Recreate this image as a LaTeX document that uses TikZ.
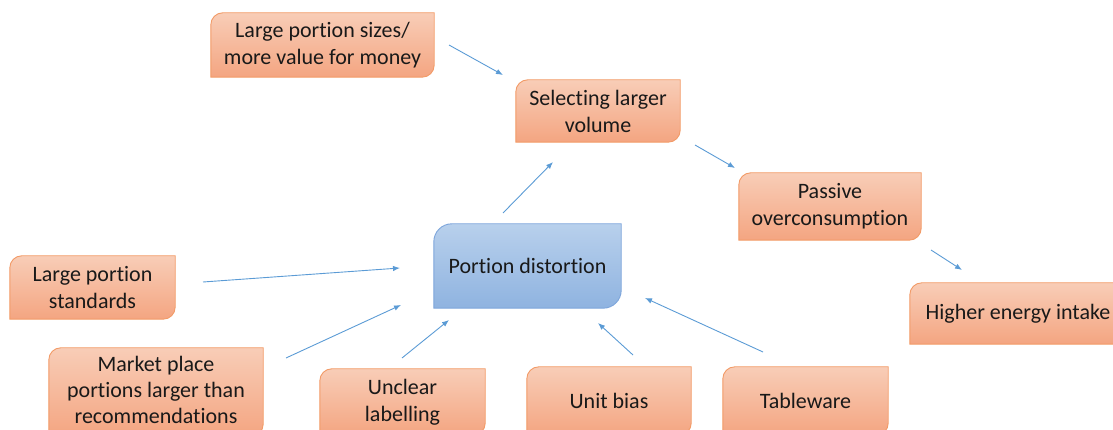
\documentclass[tikz,border=0pt]{standalone}
\usepackage{fontspec}
\setmainfont[Ligatures={NoCommon}]{Carlito}
\usetikzlibrary{calc,arrows.meta}
\definecolor{otop}{HTML}{F8CDB7}
\definecolor{obot}{HTML}{F4A581}
\definecolor{oline}{HTML}{F29A66}
\definecolor{btop}{HTML}{B8D0EC}
\definecolor{bbot}{HTML}{8FB3E0}
\definecolor{bline}{HTML}{7DA5DB}
\definecolor{arr}{HTML}{5B9BD5}
\newcommand\diagshape[5]{% name, top, bottom, line, radius
  \path[draw=#4, line width=0.9pt, top color=#2, bottom color=#3]
    ($(#1.north west)+(#5,0)$) -- (#1.north east) -- ($(#1.south east)+(0,#5)$)
    arc[start angle=0, end angle=-90, radius=#5] -- (#1.south west)
    -- ($(#1.north west)+(0,-#5)$) arc[start angle=180, end angle=90, radius=#5] -- cycle;
}
\begin{document}
\begin{tikzpicture}[x=1pt,y=1pt,
  lbl/.style={inner sep=0pt, align=center, font=\fontsize{22}{27}\selectfont, text=black!90},
  conn/.style={draw=arr, line width=0.9pt, -{Latex[length=7pt,width=5.5pt]}}]
\useasboundingbox (0,0) rectangle (1113,430);
% node frames (invisible, for geometry)
\path
  (322.5,385) coordinate (A) (598,319) coordinate (B) (830,223.5) coordinate (C)
  (1018,116.5) coordinate (D) (92.5,142.5) coordinate (E) (527.5,164) coordinate (F)
  (156,38) coordinate (G) (402.5,28) coordinate (H) (609,29) coordinate (I) (805.5,29) coordinate (J);
\node[inner sep=0, minimum width=223pt, minimum height=64pt] (bA) at (A) {};
\node[inner sep=0, minimum width=164pt, minimum height=62pt] (bB) at (B) {};
\node[inner sep=0, minimum width=182pt, minimum height=67pt] (bC) at (C) {};
\node[inner sep=0, minimum width=216pt, minimum height=61pt] (bD) at (D) {};
\node[inner sep=0, minimum width=165pt, minimum height=63pt] (bE) at (E) {};
\node[inner sep=0, minimum width=187pt, minimum height=84pt] (bF) at (F) {};
\node[inner sep=0, minimum width=214pt, minimum height=88pt] (bG) at (G) {};
\node[inner sep=0, minimum width=165pt, minimum height=66pt] (bH) at (H) {};
\node[inner sep=0, minimum width=164pt, minimum height=68pt] (bI) at (I) {};
\node[inner sep=0, minimum width=165pt, minimum height=68pt] (bJ) at (J) {};
\foreach \n in {bA,bB,bC,bD,bE,bG,bH,bI,bJ}{\diagshape{\n}{otop}{obot}{oline}{12pt}}
\diagshape{bF}{btop}{bbot}{bline}{18pt}
% texts
\node[lbl] (tA) at (bA) {Large portion sizes/\\more value for money};
\node[lbl] (tB) at (bB) {Selecting larger\\volume};
\node[lbl] (tC) at (bC) {Passive\\overconsumption};
\node[lbl] (tD) at (bD) {Higher energy intake};
\node[lbl] (tE) at (bE) {Large portion\\standards};
\node[lbl] (tF) at (bF) {Portion distortion};
\node[lbl, font=\fontsize{22}{26}\selectfont] (tG) at ([yshift=2pt]bG) {Market place\\portions larger than\\recommendations};
\node[lbl] (tH) at (bH) {Unclear\\labelling};
\node[lbl] (tI) at (bI) {Unit bias};
\node[lbl] (tJ) at (bJ) {Tableware};
% arrow end points
\coordinate (ab1) at (449,385); \coordinate (ab2) at (503,355);
\coordinate (fb1) at (503,217); \coordinate (fb2) at (553,268);
\coordinate (bc1) at (695,285); \coordinate (bc2) at (735,262);
\coordinate (cd1) at (931,180); \coordinate (cd2) at (962,160);
\coordinate (ef1) at (203,148); \coordinate (ef2) at (400,162);
\coordinate (gf1) at (286,72);  \coordinate (gf2) at (401,125);
\coordinate (hf1) at (402,72);  \coordinate (hf2) at (449,110);
\coordinate (if1) at (633,75);  \coordinate (if2) at (598,107);
\coordinate (jf1) at (763,78);  \coordinate (jf2) at (645,132);
\foreach \s/\e in {ab1/ab2,fb1/fb2,bc1/bc2,cd1/cd2,ef1/ef2,gf1/gf2,hf1/hf2,if1/if2,jf1/jf2}
  \draw[conn] (\s) -- (\e);
\end{tikzpicture}
\end{document}
